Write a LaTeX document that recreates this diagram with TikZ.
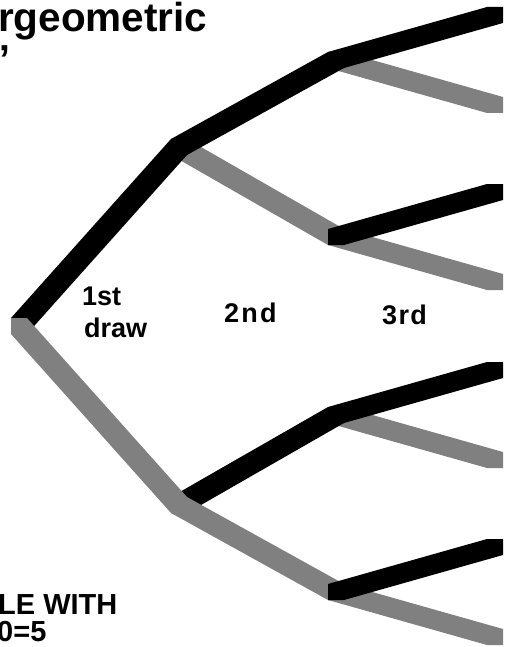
\documentclass[tikz,border=0pt]{standalone}
\usepackage{fontspec}
\setmainfont{Liberation Sans}
\usetikzlibrary{calc}
% branch drawn with a 16x16 square pen (Minkowski sum of segment and square)
\newcommand{\upbranch}[3]{\fill[#1] (#2) -- (#3) -- ($(#3)+(16,0)$) -- ($(#3)+(16,16)$) -- ($(#2)+(16,16)$) -- ($(#2)+(0,16)$) -- cycle;}
\newcommand{\downbranch}[3]{\fill[#1] (#2) -- ($(#2)+(16,0)$) -- ($(#3)+(16,0)$) -- ($(#3)+(16,16)$) -- ($(#3)+(0,16)$) -- ($(#2)+(0,16)$) -- cycle;}
\begin{document}
\begin{tikzpicture}[x=1pt,y=-1pt,
  blk/.style={fill=black},
  gry/.style={fill=gray},
  lab/.style={font=\bfseries\fontsize{27}{32}\selectfont, inner sep=0pt, anchor=base west},
  big/.style={font=\bfseries\fontsize{40.5}{48}\selectfont, inner sep=0pt, anchor=base west},
  note/.style={font=\bfseries\fontsize{29}{27}\selectfont, inner sep=0pt, anchor=base west}]
\useasboundingbox (0,0) rectangle (504,647);
\clip (0,0) rectangle (504,647);
% tree nodes (top-left corner of pen)
\coordinate (r) at (11,318);
\coordinate (a) at (171,139);
\coordinate (b) at (171,497);
\coordinate (aa) at (328,52);
\coordinate (ab) at (328,229);
\coordinate (ba) at (328,407);
\coordinate (bb) at (328,584);
\coordinate (aaa) at (487,7);
\coordinate (aab) at (487,97);
\coordinate (aba) at (487,184);
\coordinate (abb) at (487,274);
\coordinate (baa) at (487,362);
\coordinate (bab) at (487,452);
\coordinate (bba) at (487,539);
\coordinate (bbb) at (487,629);
% branches, in drawing order
\downbranch{gry}{a}{ab}
\downbranch{gry}{ab}{abb}
\downbranch{gry}{aa}{aab}
\upbranch{blk}{r}{a}
\upbranch{blk}{a}{aa}
\upbranch{blk}{aa}{aaa}
\upbranch{blk}{ab}{aba}
\downbranch{gry}{ba}{bab}
\upbranch{blk}{b}{ba}
\downbranch{gry}{r}{b}
\downbranch{gry}{b}{bb}
\downbranch{gry}{bb}{bbb}
\upbranch{blk}{ba}{baa}
\upbranch{blk}{bb}{bba}
% texts
\node[big] (title) at (-2,32) {rgeometric};
\node[big] (quote) at (-10,74) {"};
\node[lab] (first) at (82,305) {1st};
\node[lab] (draw) at (84,337) {draw};
\node[lab, font=\bfseries\fontsize{27}{32}\selectfont\addfontfeatures{LetterSpace=8}] (second) at (224,322) {2nd};
\node[lab, font=\bfseries\fontsize{27}{32}\selectfont\addfontfeatures{LetterSpace=5}] (third) at (382,324) {3rd};
\node[note] (ntop) at (-2,614) {LE WITH};
\node[note] (nbot) at (-3,641) {0=5};
\end{tikzpicture}
\end{document}
